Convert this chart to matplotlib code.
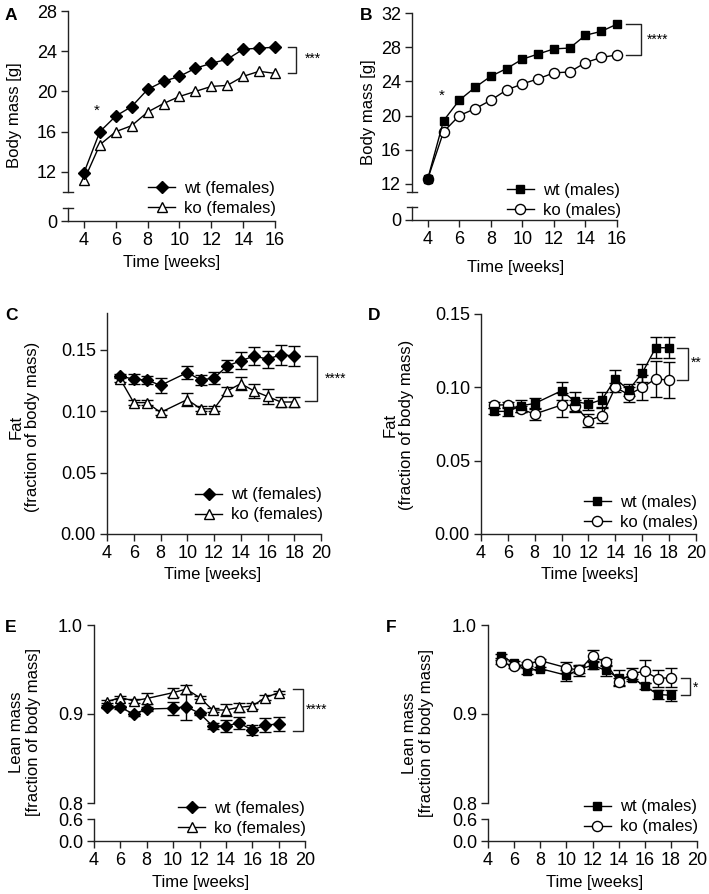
import matplotlib
matplotlib.use("Agg")
import matplotlib.pyplot as plt
import numpy as np

plt.rcParams['font.family'] = ['Liberation Sans', 'DejaVu Sans']
plt.rcParams['font.size'] = 12

# ---------------- data ----------------
weeks_mass = [4, 5, 6, 7, 8, 9, 10, 11, 12, 13, 14, 15, 16]
wt_f_mass = [11.9, 16.0, 17.55, 18.5, 20.2, 21.0, 21.5, 22.3, 22.8, 23.2, 24.2, 24.3, 24.4]
ko_f_mass = [11.15, 14.7, 16.0, 16.6, 17.95, 18.8, 19.5, 20.0, 20.5, 20.6, 21.5, 22.0, 21.8]
wt_m_mass = [12.6, 19.4, 21.8, 23.3, 24.6, 25.5, 26.6, 27.2, 27.8, 27.9, 29.4, 29.85, 30.7]
ko_m_mass = [12.6, 18.1, 20.0, 20.8, 21.8, 23.0, 23.7, 24.3, 25.0, 25.1, 26.2, 26.8, 27.1]

weeks_comp = [5, 6, 7, 8, 10, 11, 12, 13, 14, 15, 16, 17, 18]
wt_f_fat = [0.1287, 0.126, 0.1255, 0.121, 0.1315, 0.1255, 0.127, 0.137, 0.141, 0.145, 0.1424, 0.146, 0.145]
wt_f_fat_err = [0.002, 0.004, 0.003, 0.006, 0.0055, 0.004, 0.005, 0.005, 0.007, 0.0075, 0.007, 0.008, 0.0085]
ko_f_fat = [0.126, 0.107, 0.107, 0.099, 0.1095, 0.102, 0.102, 0.1165, 0.1225, 0.1165, 0.112, 0.1075, 0.1075]
ko_f_fat_err = [0.002, 0.002, 0.002, 0.002, 0.005, 0.002, 0.002, 0.003, 0.005, 0.006, 0.006, 0.004, 0.004]

wt_m_fat = [0.0836, 0.0836, 0.0875, 0.089, 0.0977, 0.0904, 0.0886, 0.0916, 0.1057, 0.0982, 0.1098, 0.127, 0.127]
wt_m_fat_err = [0.002, 0.003, 0.004, 0.004, 0.006, 0.0065, 0.004, 0.005, 0.006, 0.004, 0.006, 0.007, 0.007]
ko_m_fat = [0.088, 0.088, 0.085, 0.0818, 0.088, 0.0875, 0.0773, 0.0807, 0.100, 0.095, 0.100, 0.1057, 0.105]
ko_m_fat_err = [0.002, 0.002, 0.002, 0.004, 0.008, 0.004, 0.0045, 0.005, 0.003, 0.005, 0.0085, 0.012, 0.0125]

wt_f_lean = [0.9083, 0.9075, 0.900, 0.9056, 0.9064, 0.9083, 0.9008, 0.8865, 0.8865, 0.890, 0.882, 0.8876, 0.8887]
wt_f_lean_err = [0.002, 0.002, 0.002, 0.002, 0.007, 0.0146, 0.002, 0.003, 0.0066, 0.0068, 0.0056, 0.0075, 0.008]
ko_f_lean = [0.914, 0.9185, 0.9148, 0.9174, 0.924, 0.928, 0.9185, 0.9045, 0.9045, 0.9075, 0.909, 0.9185, 0.924]
ko_f_lean_err = [0.002, 0.002, 0.002, 0.0066, 0.005, 0.005, 0.002, 0.002, 0.0066, 0.005, 0.003, 0.003, 0.002]

wt_m_lean = [0.9653, 0.9574, 0.9484, 0.951, 0.9435, 0.950, 0.955, 0.949, 0.941, 0.941, 0.9314, 0.922, 0.921]
wt_m_lean_err = [0.002, 0.002, 0.003, 0.002, 0.006, 0.004, 0.004, 0.006, 0.008, 0.004, 0.003, 0.005, 0.006]
ko_m_lean = [0.9585, 0.9536, 0.9559, 0.960, 0.952, 0.949, 0.9653, 0.958, 0.936, 0.9454, 0.948, 0.9397, 0.941]
ko_m_lean_err = [0.002, 0.002, 0.002, 0.002, 0.006, 0.006, 0.007, 0.004, 0.005, 0.006, 0.013, 0.0095, 0.011]

labels_f = ['wt (females)', 'ko (females)']
labels_m = ['wt (males)', 'ko (males)']

# ---------------- figure ----------------
W, H = 709, 894
fig = plt.figure(figsize=(W / 100, H / 100), dpi=100)

AX_COL = '#222222'
FS_TICK = 13
FS = 12


def ax_px(left, top, right, bottom):
    return fig.add_axes([left / W, 1 - bottom / H, (right - left) / W, (bottom - top) / H])


def style(ax, show_bottom=True):
    ax.spines['top'].set_visible(False)
    ax.spines['right'].set_visible(False)
    for s in ('left', 'bottom'):
        ax.spines[s].set_color(AX_COL)
        ax.spines[s].set_linewidth(1.0)
    if not show_bottom:
        ax.spines['bottom'].set_visible(False)
        ax.tick_params(axis='x', bottom=False, labelbottom=False)
    ax.tick_params(direction='out', length=5, width=1.0, color=AX_COL, labelsize=FS_TICK)
    ax.tick_params(axis='y', pad=3)
    ax.tick_params(axis='x', pad=3)
    ax.patch.set_alpha(0)


def brk(ax, where, half_px=5):
    w = ax.get_position().width * W
    d = half_px / w
    ax.plot([-d, d], [where, where], transform=ax.transAxes, color=AX_COL, lw=1.0, clip_on=False)


STY = {
    'wt_f': dict(marker='D', ms=6, mfc='black', mec='black'),
    'ko_f': dict(marker='^', ms=7.5, mfc='white', mec='black', mew=1.0),
    'wt_m': dict(marker='s', ms=6.3, mfc='black', mec='black'),
    'ko_m': dict(marker='o', ms=7.3, mfc='white', mec='black', mew=1.0),
}


def series(ax, x, y, err, key, label):
    if err is not None:
        ax.errorbar(x, y, yerr=err, fmt='none', ecolor='black', elinewidth=1.0,
                    capsize=4, capthick=1.0, clip_on=False, zorder=2)
    ln, = ax.plot(x, y, color='black', lw=1.0, clip_on=False, zorder=3, label=label, **STY[key])
    return ln


def legend(ax, handles, labels, xr, ymid):
    ax.legend(handles, labels, loc='center right', bbox_to_anchor=(xr / W, 1 - ymid / H),
              bbox_transform=fig.transFigure, frameon=False, borderpad=0, borderaxespad=0,
              handlelength=1.6, handletextpad=0.55, labelspacing=0.3, fontsize=FS)


def bracket(ax, x0, x1, y_top, y_bot, xt, yt, txt):
    ax.plot([x0, x1, x1, x0], [y_top, y_top, y_bot, y_bot], color=AX_COL, lw=1.0, clip_on=False)
    ax.text(xt, yt, txt, fontsize=10, ha='left', va='center')


def ylab(x, y, txt):
    fig.text(x / W, 1 - y / H, txt, rotation=90, ha='center', va='center', fontsize=FS,
             linespacing=1.1)


def xlab(x, y, txt):
    fig.text(x / W, 1 - y / H, txt, ha='center', va='center', fontsize=FS)


def letter(x, y, txt):
    fig.text(x / W, 1 - y / H, txt, ha='left', va='center', fontsize=12.5, fontweight='bold')


# ---------------- panel A ----------------
aU = ax_px(68, 11, 275, 192)
aL = ax_px(68, 208, 275, 221)
style(aU, show_bottom=False)
style(aL)
aU.set_xlim(3, 16); aL.set_xlim(3, 16)
aU.set_ylim(10, 28); aL.set_ylim(0, 1.3)
aU.set_yticks([12, 16, 20, 24, 28])
aL.set_yticks([0])
aL.set_xticks([4, 6, 8, 10, 12, 14, 16])
h1 = series(aU, weeks_mass, ko_f_mass, None, 'ko_f', labels_f[1])
h0 = series(aU, weeks_mass, wt_f_mass, None, 'wt_f', labels_f[0])
brk(aU, 0); brk(aL, 1)
legend(aU, [h0, h1], labels_f, 276, 198)
bracket(aU, 16.84, 17.34, 24.4, 21.8, 17.85, 23.2, '***')
aU.text(4.78, 18.1, '*', fontsize=11, ha='center', va='center')
ylab(15, 115, 'Body mass [g]')
xlab(172, 263, 'Time [weeks]')
letter(5, 15, 'A')

# ---------------- panel B ----------------
bU = ax_px(412, 13, 617, 192)
bL = ax_px(412, 207, 617, 220)
style(bU, show_bottom=False)
style(bL)
bU.set_xlim(3, 16); bL.set_xlim(3, 16)
bU.set_ylim(11.06, 32); bL.set_ylim(0, 1.5)
bU.set_yticks([12, 16, 20, 24, 28, 32])
bL.set_yticks([0])
bL.set_xticks([4, 6, 8, 10, 12, 14, 16])
h1 = series(bU, weeks_mass, ko_m_mass, None, 'ko_m', labels_m[1])
h0 = series(bU, weeks_mass, wt_m_mass, None, 'wt_m', labels_m[0])
brk(bU, 0); brk(bL, 1)
legend(bU, [h0, h1], labels_m, 621, 200)
bracket(bU, 16.59, 17.54, 30.7, 27.1, 17.9, 28.9, '****')
bU.text(4.9, 22.3, '*', fontsize=11, ha='center', va='center')
ylab(368, 112, 'Body mass [g]')
xlab(516, 267, 'Time [weeks]')
letter(360, 15, 'B')

# ---------------- panel C ----------------
c = ax_px(107, 313, 321, 534)
style(c)
c.set_xlim(4, 20); c.set_ylim(0, 0.18)
c.set_xticks(range(4, 21, 2))
c.set_yticks([0, 0.05, 0.10, 0.15])
c.set_yticklabels(['0.00', '0.05', '0.10', '0.15'])
h1 = series(c, weeks_comp, ko_f_fat, ko_f_fat_err, 'ko_f', labels_f[1])
h0 = series(c, weeks_comp, wt_f_fat, wt_f_fat_err, 'wt_f', labels_f[0])
legend(c, [h0, h1], labels_f, 323, 505)
bracket(c, 18.8, 19.7, 0.145, 0.108, 20.3, 0.1265, '****')
ylab(24, 427, 'Fat\n(fraction of body mass)')
xlab(213, 575, 'Time [weeks]')
letter(5, 315, 'C')

# ---------------- panel D ----------------
d = ax_px(481, 314, 696, 534)
style(d)
d.set_xlim(4, 20); d.set_ylim(0, 0.15)
d.set_xticks(range(4, 21, 2))
d.set_yticks([0, 0.05, 0.10, 0.15])
d.set_yticklabels(['0.00', '0.05', '0.10', '0.15'])
h1 = series(d, weeks_comp, ko_m_fat, ko_m_fat_err, 'ko_m', labels_m[1])
h0 = series(d, weeks_comp, wt_m_fat, wt_m_fat_err, 'wt_m', labels_m[0])
legend(d, [h0, h1], labels_m, 698, 512)
bracket(d, 18.58, 19.4, 0.127, 0.105, 19.6, 0.117, '**')
ylab(398, 425, 'Fat\n(fraction of body mass)')
xlab(590, 575, 'Time [weeks]')
letter(368, 315, 'D')

# ---------------- panel E ----------------
eU = ax_px(94, 625, 305, 803)
eL = ax_px(94, 819, 305, 841)
style(eU, show_bottom=False)
style(eL)
eU.set_xlim(4, 20); eL.set_xlim(4, 20)
eU.set_ylim(0.8, 1.0); eL.set_ylim(0, 0.6)
eU.set_yticks([0.8, 0.9, 1.0])
eU.set_yticklabels(['0.8', '0.9', '1.0'])
eL.set_yticks([0.0, 0.6])
eL.set_yticklabels(['0.0', '0.6'])
eL.set_xticks(range(4, 21, 2))
h1 = series(eU, weeks_comp, ko_f_lean, ko_f_lean_err, 'ko_f', labels_f[1])
h0 = series(eU, weeks_comp, wt_f_lean, wt_f_lean_err, 'wt_f', labels_f[0])
legend(eU, [h0, h1], labels_f, 306, 818)
bracket(eU, 19.09, 19.85, 0.928, 0.8806, 20.1, 0.9045, '****')
ylab(25, 732, 'Lean mass\n[fraction of body mass]')
xlab(201, 883, 'Time [weeks]')
letter(5, 627, 'E')

# ---------------- panel F ----------------
fU = ax_px(488, 625, 697, 803)
fL = ax_px(488, 819, 697, 841)
style(fU, show_bottom=False)
style(fL)
fU.set_xlim(4, 20); fL.set_xlim(4, 20)
fU.set_ylim(0.8, 1.0); fL.set_ylim(0, 0.6)
fU.set_yticks([0.8, 0.9, 1.0])
fU.set_yticklabels(['0.8', '0.9', '1.0'])
fL.set_yticks([0.0, 0.6])
fL.set_yticklabels(['0.0', '0.6'])
fL.set_xticks(range(4, 21, 2))
h0 = series(fU, weeks_comp, wt_m_lean, wt_m_lean_err, 'wt_m', labels_m[0])
h1 = series(fU, weeks_comp, ko_m_lean, ko_m_lean_err, 'ko_m', labels_m[1])
legend(fU, [h0, h1], labels_m, 698, 817)
bracket(fU, 18.78, 19.47, 0.941, 0.921, 19.7, 0.930, '*')
ylab(418, 733, 'Lean mass\n[fraction of body mass]')
xlab(595, 883, 'Time [weeks]')
letter(386, 627, 'F')

fig.savefig('out.png', dpi=100)
